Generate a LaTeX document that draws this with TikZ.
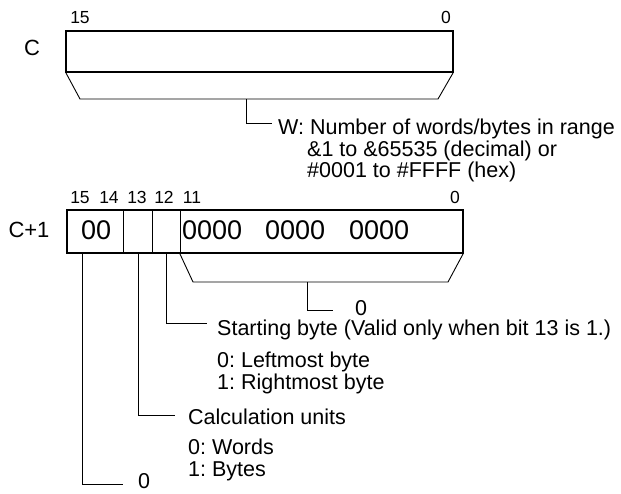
\documentclass[tikz,border=0pt]{standalone}
\usepackage{fontspec}
\setmainfont{Liberation Sans}
\frenchspacing
\begin{document}
\begin{tikzpicture}[x=1pt,y=-1pt,
  txt/.style={anchor=base west,inner sep=0pt,font=\fontsize{21.5}{22}\selectfont},
  bitno/.style={anchor=base,inner sep=0pt,font=\fontsize{17.5}{18}\selectfont},
  regname/.style={anchor=base,inner sep=0pt,font=\fontsize{22}{22}\selectfont},
  boxdig/.style={anchor=base west,inner sep=0pt,font=\fontsize{27}{27}\selectfont},
  wordbox/.style={line width=2.4pt},
  thin/.style={line width=0.9pt},
  leader/.style={line width=0.9pt}]
\useasboundingbox (0,0) rectangle (621,493);

% ---------- word C ----------
\node[regname] (lC) at (32,55.9) {C};
\node[bitno] (c15) at (80,23.3) {15};
\node[bitno] (c0) at (446,23.3) {0};
\coordinate (cTL) at (66,31);
\coordinate (cBR) at (453,72);
\draw[wordbox] (cTL) rectangle (cBR);
\coordinate (cA) at (66,73);
\coordinate (cB) at (80,99);
\coordinate (cC) at (438,99);
\coordinate (cD) at (453,73);
\draw[thin] (cA) -- (cB) -- (cC) -- (cD);
\coordinate (cS) at (246,99);
\coordinate (cE) at (272,123);
\draw[leader] (cS) |- (cE);
\node[txt] (w1) at (278,134.7) {W: Number of words/bytes in range};
\node[txt] (w2) at (307,156.7) {\&1 to \&65535 (decimal) or};
\node[txt] (w3) at (307,177.7) {\#0001 to \#FFFF (hex)};

% ---------- word C+1 ----------
\node[regname] (lC1) at (29,237.9) {C+1};
\node[bitno] (b15) at (80,203.3) {15};
\node[bitno] (b14) at (109,203.3) {14};
\node[bitno] (b13) at (137,203.3) {13};
\node[bitno] (b12) at (164,203.3) {12};
\node[bitno] (b11) at (192,203.3) {11};
\node[bitno] (b0) at (455,203.3) {0};
\coordinate (dTL) at (67,210);
\coordinate (dBR) at (463,253);
\foreach \xx/\nm in {123/d1,152/d2,180/d3}{
  \coordinate (\nm t) at (\xx,210);
  \coordinate (\nm b) at (\xx,253);
  \draw[thin] (\nm t) -- (\nm b);
}
\draw[wordbox] (dTL) rectangle (dBR);
\node[boxdig] (z00) at (81,239.7) {00};
\node[boxdig] (za) at (182,239.7) {0000};
\node[boxdig] (zb) at (265,239.7) {0000};
\node[boxdig] (zc) at (349,239.7) {0000};

\coordinate (eA) at (180,254);
\coordinate (eB) at (193,282);
\coordinate (eC) at (448,282);
\coordinate (eD) at (463,254);
\draw[thin] (eA) -- (eB) -- (eC) -- (eD);
\coordinate (eS) at (307,282);
\coordinate (eE) at (333,310);
\draw[leader] (eS) |- (eE);
\node[txt] (z1) at (355,315.7) {0};

% bit 12
\coordinate (s12) at (166,254);
\coordinate (e12) at (207,323);
\draw[leader] (s12) |- (e12);
\node[txt] (sb) at (217,335.7) {Starting byte (Valid only when bit 13 is 1.)};
\node[txt] (sb0) at (217,367.7) {0: Leftmost byte};
\node[txt] (sb1) at (217,389.7) {1: Rightmost byte};

% bit 13
\coordinate (s13) at (138,254);
\coordinate (e13) at (175,415);
\draw[leader] (s13) |- (e13);
\node[txt] (cu) at (188,424.7) {Calculation units};
\node[txt] (cu0) at (188,454.7) {0: Words};
\node[txt] (cu1) at (188,476.7) {1: Bytes};

% bits 15-14
\coordinate (s15) at (82,254);
\coordinate (e15) at (123,484);
\draw[leader] (s15) |- (e15);
\node[txt] (z2) at (138,488.5) {0};
\end{tikzpicture}
\end{document}
